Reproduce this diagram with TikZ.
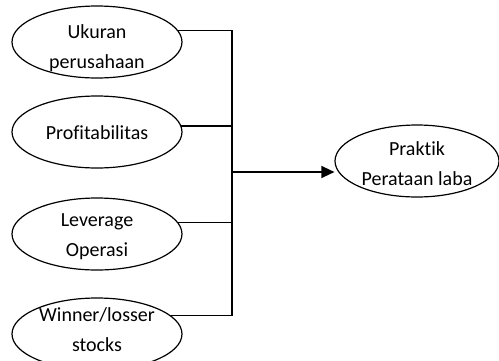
\documentclass[tikz,border=0pt]{standalone}
\usepackage{fontspec}
\setmainfont{Carlito}[Ligatures={NoCommon}]
\usetikzlibrary{shapes.geometric,arrows.meta}
\begin{document}
\begin{tikzpicture}[x=1pt,y=-1pt,
  oval/.style={ellipse,draw,line width=1.2pt,minimum width=170pt,minimum height=72pt,inner sep=0pt},
  txt/.style={font=\fontsize{20}{30}\selectfont,align=center,inner sep=0pt,text=black},
  conn/.style={line width=1.5pt}]
\useasboundingbox (0,0) rectangle (499,360);
\node[oval,label={[txt,yshift=-6pt]center:Ukuran\\perusahaan}] (e1) at (97,42) {};
\node[oval,label={[txt,yshift=-1pt]center:Profitabilitas}] (e2) at (97,132) {};
\node[oval,label={[txt,yshift=-3pt]center:Leverage\\Operasi}] (e3) at (97,234) {};
\node[oval,label={[txt,yshift=4pt]center:Winner/losser\\stocks}] (e4) at (97,334) {};
\node[oval,minimum width=164pt,label={[txt,yshift=-3pt]center:Praktik\\Perataan laba}] (t) at (417,161) {};
\coordinate (j) at (232,172);
\draw[conn] (e1.8.5) -| (j);
\draw[conn] (e2.4) -| (j);
\draw[conn] (e3.8.5) -| (j);
\draw[conn] (e4.14) -| (j);
\draw[conn,-{Triangle[length=13pt,width=12pt]}] (j) -- (t.west |- j);
\end{tikzpicture}
\end{document}
